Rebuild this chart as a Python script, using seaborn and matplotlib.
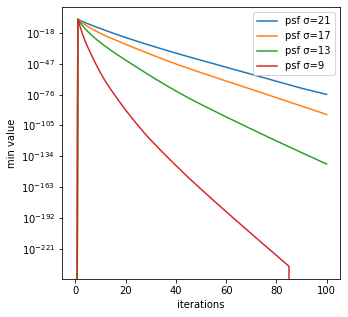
import numpy as np
import pandas as pd
import matplotlib
matplotlib.use("Agg")
import matplotlib.pyplot as plt
import matplotlib.ticker as mticker
import seaborn as sns

# sampled iterations
iters_main = [0, 1, 2, 3, 4, 5, 6, 8, 10, 12, 15, 20, 25, 30, 35, 40, 45, 50,
              60, 70, 80, 90, 100]
# log10 of min value (None -> exactly zero)
exp_s21 = [None, -5, -6.2, -7.3, -8.3, -9.25, -10.2, -12.0, -13.8, -15.55, -18.1, -22.2,
           -26.1, -29.8, -33.4, -36.9, -40.3, -43.6, -50.2, -56.8, -63.4, -70.0, -75.8]
exp_s17 = [None, -5, -7.0, -8.8, -10.4, -11.9, -13.3, -15.9, -18.3, -20.6, -23.6, -28.6,
           -33.4, -38.1, -42.7, -47.1, -51.3, -55.3, -63.2, -71.0, -78.9, -86.8, -94.7]
exp_s13 = [None, -5, -8.5, -11.5, -14.2, -16.7, -19.0, -23.2, -27.0, -30.6, -35.7, -43.5,
           -51.1, -58.5, -65.7, -72.6, -79.1, -85.2, -97.0, -108.4, -119.6, -130.6, -141.4]

iters_s9 = [0, 1, 2, 3, 4, 5, 6, 7, 8, 9, 10, 11, 12, 13, 14, 16, 18, 20, 22, 25, 28, 30,
            35, 40, 45, 50, 55, 60, 65, 70, 75, 80, 85, 86, 90, 95, 100]
exp_s9 = [None, -5, -12.8, -20.0, -26.3, -31.5, -36.6, -41.6, -46.4, -51.0, -55.4, -59.6,
          -63.6, -67.2, -70.7, -77.5, -84.1, -90.5, -96.5, -105.2, -113.6, -118.8,
          -130.9, -142.7, -154.1, -165.0, -175.7, -186.2, -196.6, -206.9, -217.2, -227.4,
          -237.6, None, None, None, None]

labels = ["psf σ=21", "psf σ=17", "psf σ=13", "psf σ=9"]


def to_vals(exps):
    return [0.0 if e is None else 10.0 ** e for e in exps]


frames = []
for lab, xs, ex in [(labels[0], iters_main, exp_s21),
                    (labels[1], iters_main, exp_s17),
                    (labels[2], iters_main, exp_s13),
                    (labels[3], iters_s9, exp_s9)]:
    frames.append(pd.DataFrame({"iterations": xs, "min value": to_vals(ex), "psf": lab}))
df = pd.concat(frames, ignore_index=True)

fig = plt.figure(figsize=(348 / 72, 317 / 72), dpi=72)
ax = fig.add_axes([62 / 348, 1 - 279 / 317, (340 - 62) / 348, (279 - 7) / 317])

palette = dict(zip(labels, ["#1f77b4", "#ff7f0e", "#2ca02c", "#d62728"]))
sns.lineplot(data=df, x="iterations", y="min value", hue="psf", hue_order=labels,
             palette=palette, estimator=None, sort=False, linewidth=1.5, ax=ax)

ax.set_yscale("log")
ax.set_xlim(-5.3, 105.3)
ax.set_ylim(10.0 ** -249.6, 10.0 ** 6.5)
ax.set_xticks([0, 20, 40, 60, 80, 100])
yt = [10.0 ** e for e in [-221, -192, -163, -134, -105, -76, -47, -18]]
ax.yaxis.set_major_locator(mticker.FixedLocator(yt))
ax.yaxis.set_major_formatter(mticker.LogFormatterSciNotation())
ax.yaxis.set_minor_locator(mticker.NullLocator())
ax.set_xlabel("iterations")
ax.set_ylabel("min value")

handles, labs = ax.get_legend_handles_labels()
ax.legend(handles, labs, loc="upper right")

fig.savefig("out.png", dpi=72)
